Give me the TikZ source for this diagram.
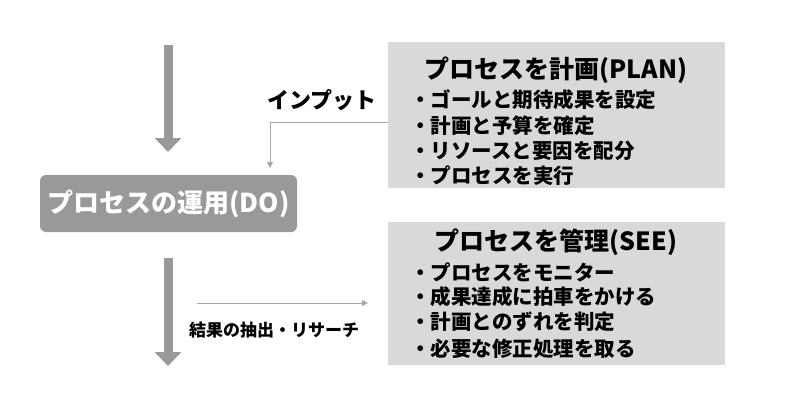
\documentclass[tikz,border=0pt]{standalone}
\usepackage{fontspec}
\setmainfont{Noto Sans CJK JP}
\usetikzlibrary{positioning,arrows.meta}
\tikzset{
  bigarrow/.style={draw=gray!80, line width=9pt, -{Triangle[length=14pt,width=26pt]}},
  thinarrow/.style={draw=gray!70, line width=1pt, -{Triangle[length=6pt,width=6pt]}},
  panel/.style={fill=black!15, minimum width=337pt, anchor=north west},
  title/.style={font=\fontsize{25}{27}\selectfont\bfseries},
  item/.style={font=\fontsize{20.5}{22}\selectfont\bfseries, anchor=west, inner sep=0pt},
}
\begin{document}
\begin{tikzpicture}[x=1pt,y=-1pt]
\useasboundingbox (0,0) rectangle (800,420);
\node (plan) [panel, minimum height=146pt] at (388,42) {};
\node (see) [panel, minimum height=143pt] at (388,222) {};
\node (do) [fill=black!40, rounded corners=6pt, minimum width=257pt, minimum height=57pt,
  text=white, font=\fontsize{26}{28}\selectfont\bfseries] at (168.5,203.5) {プロセスの運用(DO)};

\node (plantitle) [title] at (556,70) {プロセスを計画(PLAN)};
\node [item] at (410,100) {・ゴールと期待成果を設定};
\node [item] at (410,126) {・計画と予算を確定};
\node [item] at (410,151) {・リソースと要因を配分};
\node [item] at (410,176) {・プロセスを実行};

\node (seetitle) [title] at (556,242) {プロセスを管理(SEE)};
\node [item] at (410,272) {・プロセスをモニター};
\node [item] at (410,297) {・成果達成に拍車をかける};
\node [item] at (410,322) {・計画とのずれを判定};
\node [item] at (410,349) {・必要な修正処理を取る};

\coordinate (top1) at (168,45);
\coordinate (top2) at (168,258);
\coordinate (bot2) at (168,366);
\draw[bigarrow] (top1) -- (168,152);
\draw[bigarrow] (top2) -- (bot2);

\coordinate (inbend) at (270,122);
\draw[thinarrow] (plan.west |- inbend) -- (inbend) -- (270,168);
\node (input) [font=\fontsize{22}{24}\selectfont\bfseries] at (322,100) {インプット};

\coordinate (outstart) at (197,303);
\draw[thinarrow] (outstart) -- (368,303);
\node (output) [font=\fontsize{17}{19}\selectfont\bfseries] at (274,330) {結果の抽出・リサーチ};
\end{tikzpicture}
\end{document}
